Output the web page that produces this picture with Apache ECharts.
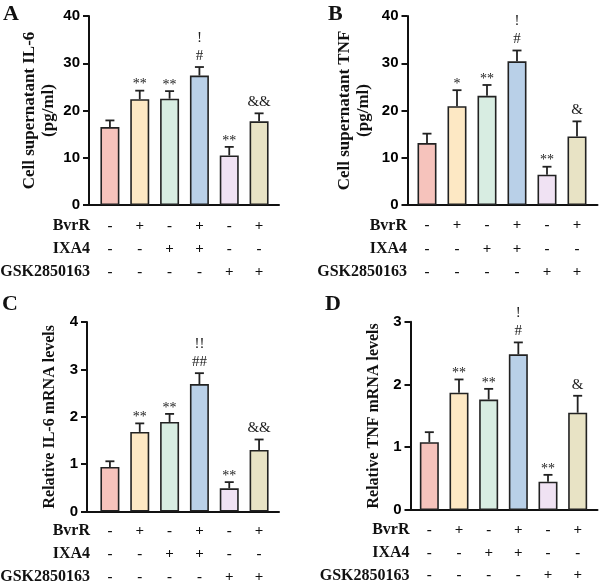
<!DOCTYPE html>
<html>
<head>
<meta charset="utf-8">
<script src="https://cdn.jsdelivr.net/npm/echarts@6/dist/echarts.min.js"></script>
<style>
html,body{margin:0;padding:0;background:#fff;}
#chart{width:600px;height:583px;}
</style>
</head>
<body>
<div id="chart"></div>
<script>
// ---- data ----
const bvrR = ['-', '+', '-', '+', '-', '+'];
const ixa4 = ['-', '-', '+', '+', '-', '-'];
const gsk = ['-', '-', '-', '-', '+', '+'];
const rowNames = ['BvrR', 'IXA4', 'GSK2850163'];

const il6Mean = [16.5, 22.4, 22.5, 27.4, 10.5, 17.7];
const il6Err = [1.4, 1.8, 1.6, 1.8, 1.8, 1.7];
const il6Ann = ['', '**', '**', '!\n#', '**', '&&'];

const tnfMean = [13.1, 20.9, 23.1, 30.4, 6.4, 14.5];
const tnfErr = [2.0, 3.4, 2.3, 2.3, 1.7, 3.2];
const tnfAnn = ['', '*', '**', '!\n#', '**', '&'];

const il6mMean = [0.94, 1.68, 1.89, 2.69, 0.49, 1.30];
const il6mErr = [0.12, 0.18, 0.17, 0.23, 0.13, 0.22];
const il6mAnn = ['', '**', '**', '!!\n##', '**', '&&'];

const tnfmMean = [1.08, 1.87, 1.76, 2.48, 0.45, 1.55];
const tnfmErr = [0.16, 0.21, 0.17, 0.19, 0.11, 0.27];
const tnfmAnn = ['', '**', '**', '!\n#', '**', '&'];

const yTicksA = [0, 10, 20, 30, 40];
const yTicksC = [0, 1, 2, 3, 4];
const yTicksD = [0, 1, 2, 3];

const barColors = ['#f6c3bc', '#fde8c4', '#d8ede2', '#b9d0e8', '#f0e2f3', '#e8e3c5'];

// ---- layout ----
const panels = [
  {letter: 'A', lx: 3, ly: 3, yName: 'Cell supernatant IL-6\n(pg/ml)', nameGap: 31, nameSize: 17,
   mean: il6Mean, err: il6Err, ann: il6Ann, ticks: yTicksA, rows: [21, 44, 67],
   frame: {left: 89, top: 16, width: 190, height: 189}, bars: {left: 95, width: 179}},
  {letter: 'B', lx: 328, ly: 3, yName: 'Cell supernatant TNF\n(pg/ml)', nameGap: 34, nameSize: 17,
   mean: tnfMean, err: tnfErr, ann: tnfAnn, ticks: yTicksA, rows: [20.5, 44, 67],
   frame: {left: 407.5, top: 16, width: 190, height: 189}, bars: {left: 412, width: 180}},
  {letter: 'C', lx: 2, ly: 293, yName: 'Relative IL-6 mRNA levels', nameGap: 28, nameSize: 16,
   mean: il6mMean, err: il6mErr, ann: il6mAnn, ticks: yTicksC, rows: [19.5, 42.5, 65.5],
   frame: {left: 87, top: 322, width: 192, height: 189.5}, bars: {left: 95, width: 179}},
  {letter: 'D', lx: 325, ly: 293, yName: 'Relative TNF mRNA levels', nameGap: 27, nameSize: 16,
   mean: tnfmMean, err: tnfmErr, ann: tnfmAnn, ticks: yTicksD, rows: [20, 43, 65.5],
   frame: {left: 410.5, top: 321.7, width: 187, height: 188.3}, bars: {left: 414.5, width: 178}}
];

const grid = [], xAxis = [], yAxis = [], series = [], graphic = [];
const serif = '"Liberation Serif", "Times New Roman", serif';
const sans = '"Liberation Sans", Arial, sans-serif';

panels.forEach(function (p) {
  const ticks = p.ticks;
  const ymax = ticks[ticks.length - 1];
  const interval = ticks[1] - ticks[0];
  const gFrame = grid.length;
  grid.push({left: p.frame.left, top: p.frame.top, width: p.frame.width, height: p.frame.height,
    containLabel: false, outerBoundsMode: 'none'});
  const gBars = grid.length;
  grid.push({left: p.bars.left, top: p.frame.top, width: p.bars.width, height: p.frame.height,
    containLabel: false, outerBoundsMode: 'none'});

  // frame axes
  xAxis.push({gridIndex: gFrame, type: 'value', min: 0, max: 1,
    axisLine: {show: true, onZero: false, lineStyle: {color: '#111', width: 2}},
    axisTick: {show: false}, axisLabel: {show: false}, splitLine: {show: false}});
  yAxis.push({gridIndex: gFrame, type: 'value', min: 0, max: ymax, interval: interval,
    name: p.yName, nameLocation: 'middle', nameGap: p.nameGap, nameRotate: 90,
    nameTextStyle: {fontFamily: serif, fontWeight: 'bold', fontSize: p.nameSize, color: '#111', lineHeight: 19},
    axisLine: {show: true, onZero: false, lineStyle: {color: '#111', width: 2}},
    axisTick: {show: true, length: 6, lineStyle: {color: '#111', width: 2}},
    axisLabel: {fontFamily: sans, fontWeight: 'bold', fontSize: 15, color: '#000', margin: 9},
    splitLine: {show: false}});

  // bar/row axes
  const rows = [bvrR, ixa4, gsk];
  const firstX = xAxis.length;
  rows.forEach(function (r, i) {
    xAxis.push({gridIndex: gBars, type: 'category', data: r, position: 'bottom',
      offset: p.rows[i],
      name: rowNames[i], nameLocation: 'start', nameGap: 5,
      nameTextStyle: {fontFamily: serif, fontWeight: 'bold', fontSize: 16, color: '#111',
        align: 'right', verticalAlign: 'middle'},
      axisLine: {show: false, onZero: false}, axisTick: {show: false}, splitLine: {show: false},
      axisLabel: {fontFamily: serif, fontWeight: 'bold', fontSize: 15, color: '#111',
        margin: 0, verticalAlign: 'middle', interval: 0}});
  });
  const yB = yAxis.length;
  yAxis.push({gridIndex: gBars, type: 'value', min: 0, max: ymax, show: false});

  series.push({type: 'bar', xAxisIndex: firstX, yAxisIndex: yB, barWidth: 19,
    data: p.mean.map(function (v, i) {
      return {value: v, itemStyle: {color: barColors[i]}};
    }),
    itemStyle: {borderColor: '#222', borderWidth: 1.6},
    silent: true, animation: false, z: 2});

  const ann = p.ann;
  series.push({type: 'custom', xAxisIndex: firstX, yAxisIndex: yB, animation: false, silent: true, z: 3,
    data: p.mean.map(function (v, i) { return [i, v, p.err[i]]; }),
    renderItem: function (params, api) {
      const i = api.value(0);
      const base = api.coord([i, api.value(1)]);
      const top = api.coord([i, api.value(1) + api.value(2)]);
      const children = [
        {type: 'line', shape: {x1: base[0], y1: base[1], x2: top[0], y2: top[1]},
          style: {stroke: '#222', lineWidth: 1.8}},
        {type: 'line', shape: {x1: top[0] - 4.5, y1: top[1], x2: top[0] + 4.5, y2: top[1]},
          style: {stroke: '#222', lineWidth: 1.8}}
      ];
      const t = ann[params.dataIndex];
      if (t) {
        const star = t.charAt(0) === '*';
        children.push({type: 'text', x: top[0], y: top[1] + (star ? 3 : -2),
          style: {text: t, fontFamily: serif, fontSize: star ? 14 : 15, fill: '#222',
            align: 'center', verticalAlign: 'bottom', lineHeight: 18}});
      }
      return {type: 'group', children: children};
    }});

  graphic.push({type: 'text', left: p.lx, top: p.ly,
    style: {text: p.letter, fontFamily: serif, fontWeight: 'bold', fontSize: 22, fill: '#111'}});
});

const chart = echarts.init(document.getElementById('chart'), null, {renderer: 'canvas'});
chart.setOption({
  animation: false,
  backgroundColor: '#fff',
  grid: grid, xAxis: xAxis, yAxis: yAxis, series: series, graphic: graphic
});
</script>
</body>
</html>
